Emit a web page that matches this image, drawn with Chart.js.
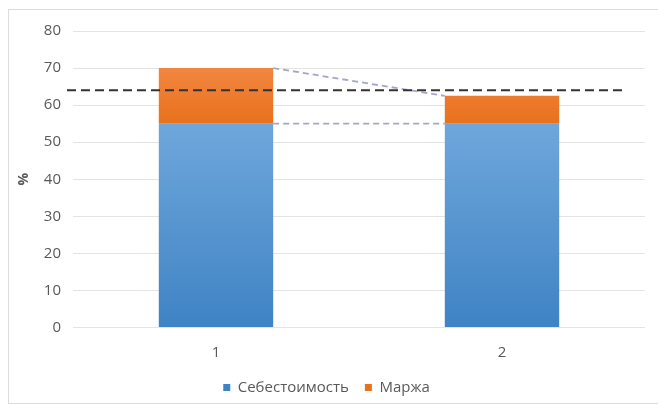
<!DOCTYPE html>
<html>
<head>
<meta charset="utf-8">
<script src="https://cdn.jsdelivr.net/npm/chart.js@4.4.1/dist/chart.umd.min.js"></script>
<style>
  html, body { margin: 0; padding: 0; background: #fff; }
  #wrap { position: relative; width: 658px; height: 410px; overflow: hidden; }
  #frame { position: absolute; left: 8px; top: 9px; width: 700px; height: 395px; border: 1px solid #dcdcdc; box-sizing: border-box; }
  canvas { position: absolute; left: 0; top: 0; }
</style>
</head>
<body>
<div id="wrap">
  <div id="frame"></div>
  <canvas id="c" width="658" height="410"></canvas>
</div>
<script>
const categories = ['1', '2'];
const costValues = [55, 55];
const marginValues = [15, 7.5];
const targetLevel = 64;
const seriesNames = ['Себестоимость', 'Маржа'];
const yTicks = [0, 10, 20, 30, 40, 50, 60, 70, 80];

const FONT = "'Open Sans', sans-serif";

function blueGrad(ctx) {
  const chart = ctx.chart;
  const a = chart.chartArea;
  if (!a) return '#5b9bd5';
  const y = chart.scales.y;
  const g = chart.ctx.createLinearGradient(0, y.getPixelForValue(55), 0, y.getPixelForValue(0));
  g.addColorStop(0, '#6fa7db');
  g.addColorStop(1, '#3f83c5');
  return g;
}
function orangeGrad(ctx) {
  const chart = ctx.chart;
  const a = chart.chartArea;
  if (!a) return '#ed7d31';
  const y = chart.scales.y;
  const g = chart.ctx.createLinearGradient(0, y.getPixelForValue(70), 0, y.getPixelForValue(55));
  g.addColorStop(0, '#f28640');
  g.addColorStop(1, '#e8711c');
  return g;
}

const overlayPlugin = {
  id: 'overlay',
  afterDatasetsDraw(chart) {
    const ctx = chart.ctx;
    const m0 = chart.getDatasetMeta(0).data;
    const m1 = chart.getDatasetMeta(1).data;
    ctx.save();
    // connectors
    ctx.strokeStyle = '#a3a6c9';
    ctx.lineWidth = 1.8;
    ctx.setLineDash([6, 4]);
    [[m1[0], m1[1]], [m0[0], m0[1]]].forEach(([a, b]) => {
      ctx.beginPath();
      ctx.moveTo(a.x + a.width / 2, a.y);
      ctx.lineTo(b.x - b.width / 2, b.y);
      ctx.stroke();
    });
    // target line
    const y = chart.scales.y.getPixelForValue(targetLevel);
    const area = chart.chartArea;
    ctx.strokeStyle = '#333333';
    ctx.lineWidth = 2;
    ctx.setLineDash([9, 5]);
    ctx.beginPath();
    ctx.moveTo(area.left - 6, y);
    ctx.lineTo(area.right - 23, y);
    ctx.stroke();
    ctx.restore();
  }
};

new Chart(document.getElementById('c'), {
  type: 'bar',
  data: {
    labels: categories,
    datasets: [
      { label: seriesNames[0], data: costValues, backgroundColor: blueGrad, borderWidth: 0 },
      { label: seriesNames[1], data: marginValues, backgroundColor: orangeGrad, borderWidth: 0 }
    ]
  },
  options: {
    responsive: false,
    animation: false,
    devicePixelRatio: 1,
    layout: { padding: { left: 8, right: 13, top: 31, bottom: 5 } },
    datasets: { bar: { barPercentage: 0.4, categoryPercentage: 1.0 } },
    scales: {
      x: {
        stacked: true,
        grid: { display: false },
        border: { display: false },
        ticks: { color: '#595959', font: { family: FONT, size: 15 }, padding: 8 },
        afterFit(s) { s.height = 36.5; }
      },
      y: {
        stacked: true,
        min: 0,
        max: 80,
        afterBuildTicks(s) { s.ticks = yTicks.map(v => ({ value: v })); },
        grid: { color: '#e4e4e4', lineWidth: 1, drawTicks: false },
        border: { display: false },
        ticks: { color: '#595959', font: { family: FONT, size: 15 }, padding: 12 },
        title: { display: true, text: '%', color: '#595959', font: { family: FONT, size: 14, weight: 'bold' }, padding: { top: 8, bottom: 4 } },
        afterFit(s) { s.width = 65; }
      }
    },
    plugins: {
      legend: {
        position: 'bottom',
        labels: { color: '#595959', font: { family: FONT, size: 15 }, boxWidth: 7, boxHeight: 7, padding: 16 }
      },
      tooltip: { enabled: false }
    }
  },
  plugins: [overlayPlugin]
});
</script>
</body>
</html>
